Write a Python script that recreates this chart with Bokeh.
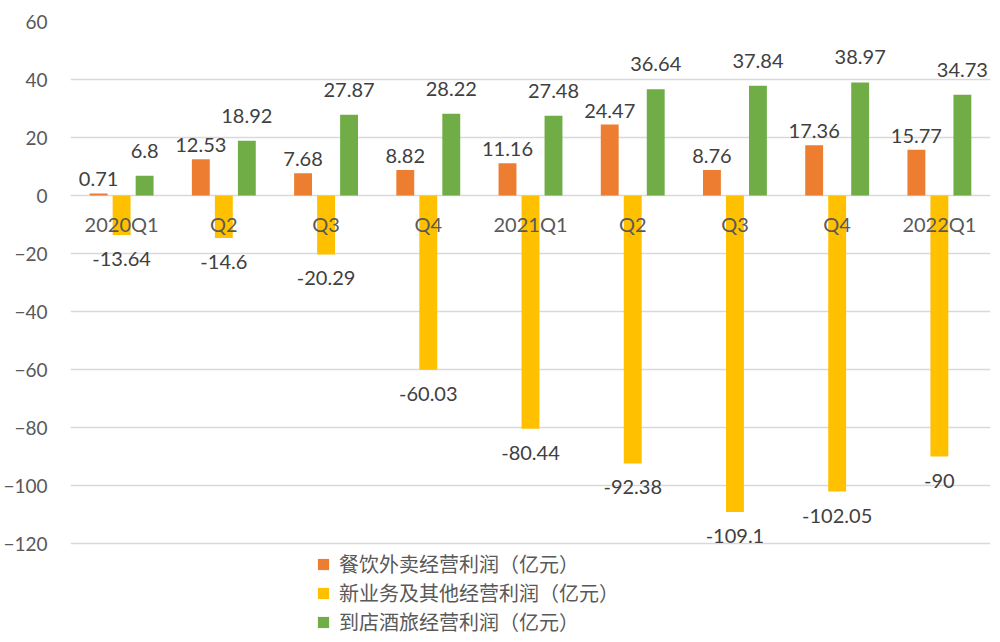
from bokeh.plotting import figure
from bokeh.models import ColumnDataSource, Range1d, FixedTicker, Legend, LegendItem
from bokeh.transform import dodge
from bokeh.core.properties import value
from bokeh.embed import file_html
from bokeh.resources import INLINE

categories = ["2020Q1", "Q2", "Q3", "Q4", "2021Q1", "Q2", "Q3", "Q4", "2022Q1"]
food_delivery = [0.71, 12.53, 7.68, 8.82, 11.16, 24.47, 8.76, 17.36, 15.77]
new_business = [-13.64, -14.6, -20.29, -60.03, -80.44, -92.38, -109.1, -102.05, -90]
in_store_hotel = [6.8, 18.92, 27.87, 28.22, 27.48, 36.64, 37.84, 38.97, 34.73]
series_names = ["餐饮外卖经营利润（亿元）", "新业务及其他经营利润（亿元）", "到店酒旅经营利润（亿元）"]
y_ticks = [-120, -100, -80, -60, -40, -20, 0, 20, 40, 60]

colors = ["#ED7D31", "#FFC000", "#70AD47"]
fmt = lambda v: f"{v:g}"

src = ColumnDataSource(dict(
    x=list(range(len(categories))),
    cat=categories,
    zero=[0] * len(categories),
    a=food_delivery, b=new_business, c=in_store_hotel,
    ta=[fmt(v) for v in food_delivery],
    tb=[fmt(v) for v in new_business],
    tc=[fmt(v) for v in in_store_hotel],
))

p = figure(width=1000, height=642, x_range=Range1d(-0.5, 8.5), y_range=Range1d(-154.1, 60),
           output_backend="svg", toolbar_location=None,
           min_border_left=60, min_border_right=10, min_border_top=21, min_border_bottom=0)

p.xaxis.visible = False
p.xgrid.grid_line_color = None
p.ygrid.grid_line_color = "#d9d9d9"
p.ygrid.grid_line_width = 1.5
p.yaxis.ticker = FixedTicker(ticks=y_ticks)
p.yaxis.axis_line_color = None
p.yaxis.major_tick_line_color = None
p.yaxis.minor_tick_line_color = None
p.yaxis.major_label_text_font = "Lato"
p.yaxis.major_label_text_font_size = "19px"
p.yaxis.major_label_text_color = "#595959"
p.yaxis.major_label_standoff = 17
p.outline_line_color = None
p.background_fill_color = "white"

off = 0.225
w = 0.175
cols = ["a", "b", "c"]
offsets = [-off, 0, off]
renderers = []
for col, o, colr in zip(cols, offsets, colors):
    r = p.vbar(x=dodge("x", o, range=p.x_range), top=col, bottom=0, width=w, source=src,
               fill_color=colr, line_color=None)
    renderers.append(r)

label_font = value("Lato")
p.text(x=dodge("x", -off, range=p.x_range), y="a", text="ta", source=src,
       text_align="center", text_baseline="bottom", y_offset=-7,
       text_font=label_font, text_font_size="20px", text_color="#404040")
p.text(x=dodge("x", off, range=p.x_range), y="c", text="tc", source=src,
       text_align="center", text_baseline="bottom", y_offset=-18,
       text_font=label_font, text_font_size="20px", text_color="#404040")
p.text(x="x", y="b", text="tb", source=src,
       text_align="center", text_baseline="top", y_offset=17,
       text_font=label_font, text_font_size="20px", text_color="#404040")
p.text(x="x", y="zero", text="cat", source=src,
       text_align="center", text_baseline="middle", y_offset=28,
       text_font=label_font, text_font_size="20px", text_color="#595959")

legend_y = [64, 35, 6]
for n, r, ly in zip(series_names, renderers, legend_y):
    legend = Legend(items=[LegendItem(label=n, renderers=[r])], location=(246, ly))
    legend.label_text_font = "Noto Sans CJK SC"
    legend.label_text_font_size = "20px"
    legend.label_text_color = "#595959"
    legend.glyph_width = 14
    legend.glyph_height = 14
    legend.label_standoff = 9
    legend.padding = 0
    legend.spacing = 0
    legend.margin = 0
    legend.border_line_color = None
    legend.background_fill_alpha = 0
    p.add_layout(legend)

open("out.html", "w").write(file_html(p, INLINE))
